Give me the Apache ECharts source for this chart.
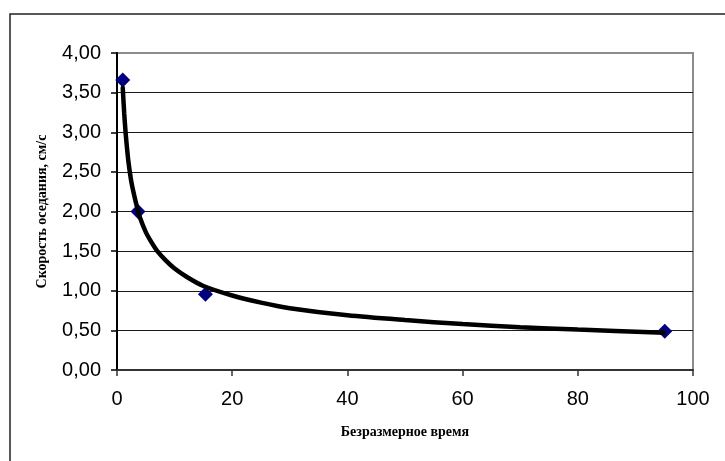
<!DOCTYPE html>
<html>
<head>
<meta charset="utf-8">
<script src="https://cdn.jsdelivr.net/npm/echarts@6/dist/echarts.min.js"></script>
<style>
html,body{margin:0;padding:0;background:#fff;}
#c{width:725px;height:461px;}
</style>
</head>
<body>
<div id="c"></div>
<script>
// Measured points (dimensionless time, settling velocity cm/s)
const pointX = [1, 3.65, 15.35, 95.1];
const pointY = [3.66, 2.0, 0.955, 0.49];
// Trendline
const trendX = [1, 1.25, 1.5, 1.75, 2, 2.5, 3, 3.5, 4, 5, 6, 7, 8.5, 10, 12, 15, 20, 25, 30, 40, 50, 60, 70, 80, 95];
const trendY = [3.56, 3.24, 2.99, 2.79, 2.62, 2.37, 2.2, 2.05, 1.92, 1.74, 1.61, 1.5, 1.38, 1.28, 1.18, 1.06, 0.94, 0.85, 0.78, 0.69, 0.63, 0.58, 0.54, 0.51, 0.47];
const xTicks = [0, 20, 40, 60, 80, 100];
const yTicks = [0, 0.5, 1, 1.5, 2, 2.5, 3, 3.5, 4];
const xTitle = 'Безразмерное время';
const yTitle = 'Скорость оседания, см/с';

const chart = echarts.init(document.getElementById('c'), null, {renderer: 'canvas'});
const pts = pointX.map((x, i) => [x, pointY[i]]);
const trend = trendX.map((x, i) => [x, trendY[i]]);
const gridColors = yTicks.map((v, i) => i === yTicks.length - 1 ? '#8c8c8c' : '#1a1a1a');

chart.setOption({
  animation: false,
  backgroundColor: '#fff',
  graphic: [{
    type: 'rect', z: -10,
    shape: {x: 10, y: 14, width: 730, height: 460},
    style: {fill: '#fff', stroke: '#222', lineWidth: 1.5}
  }],
  grid: {
    left: 117, top: 53, right: 32, bottom: 91,
    show: true, borderColor: '#8c8c8c', borderWidth: 2, backgroundColor: 'transparent'
  },
  xAxis: {
    type: 'value', min: xTicks[0], max: xTicks[xTicks.length - 1], interval: 20,
    name: xTitle, nameLocation: 'middle', nameGap: 55,
    nameTextStyle: {fontFamily: 'Liberation Serif', fontWeight: 'bold', fontSize: 14, color: '#000'},
    axisLine: {lineStyle: {color: '#333', width: 2}},
    axisTick: {show: true, inside: false, length: 6, lineStyle: {color: '#333', width: 1.5}},
    axisLabel: {margin: 19, fontFamily: 'Liberation Sans', fontSize: 20, color: '#000'},
    splitLine: {show: false}
  },
  yAxis: {
    type: 'value', min: yTicks[0], max: yTicks[yTicks.length - 1], interval: 0.5,
    name: yTitle, nameLocation: 'middle', nameGap: 68,
    nameTextStyle: {fontFamily: 'Liberation Serif', fontWeight: 'bold', fontSize: 14, color: '#000'},
    axisLine: {lineStyle: {color: '#000', width: 2}},
    axisTick: {show: true, inside: false, length: 6, lineStyle: {color: '#000', width: 1.5}},
    axisLabel: {margin: 16, fontFamily: 'Liberation Sans', fontSize: 20, color: '#000',
      formatter: v => v.toFixed(2).replace('.', ',')},
    splitLine: {show: true, lineStyle: {color: gridColors, width: 1}}
  },
  series: [
    {
      type: 'scatter', data: pts, symbol: 'diamond', symbolSize: 15,
      itemStyle: {color: '#000080', opacity: 1}, z: 3
    },
    {
      type: 'line', data: trend, smooth: 0.3, showSymbol: false, symbol: 'none',
      lineStyle: {color: '#000', width: 4.5, cap: 'round'}, z: 4
    }
  ]
});
</script>
</body>
</html>
